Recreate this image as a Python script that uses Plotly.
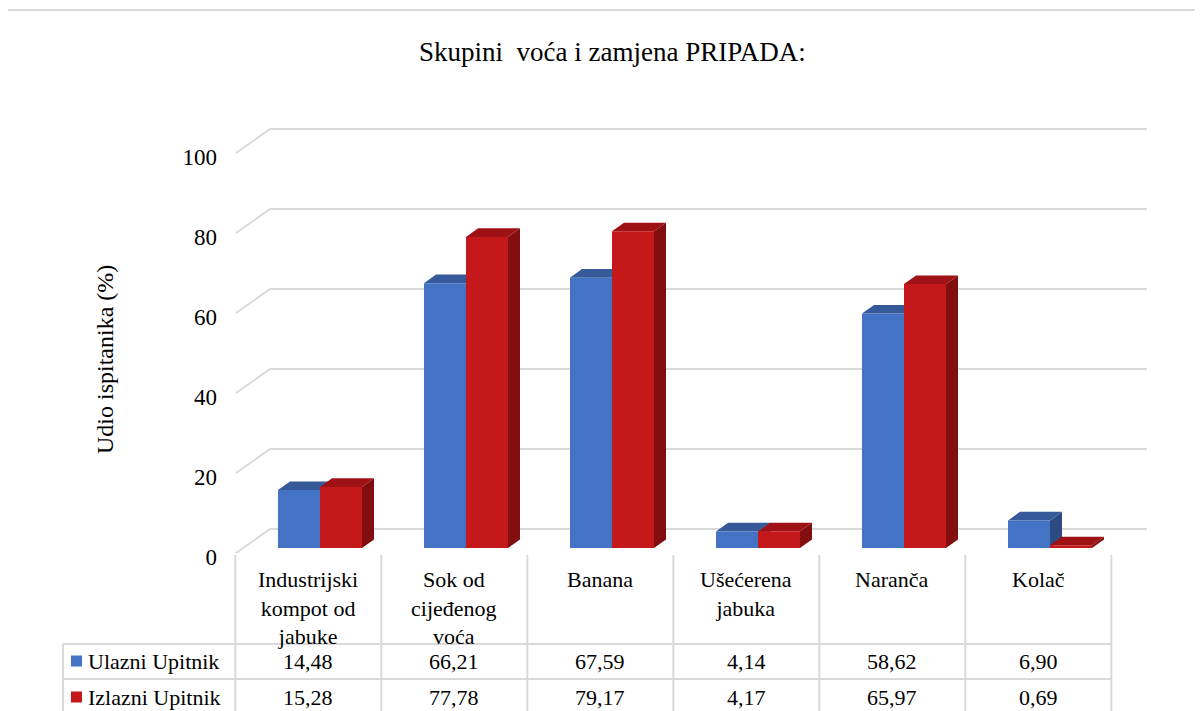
import plotly.graph_objects as go

# ============================================================================ #
# Data

CATEGORIES = [
    "Industrijski<br>kompot od<br>jabuke",
    "Sok od<br>cijeđenog<br>voća",
    "Banana",
    "Ušećerena<br>jabuka",
    "Naranča",
    "Kolač",
]
ULAZNI = [14.48, 66.21, 67.59, 4.14, 58.62, 6.90]
IZLAZNI = [15.28, 77.78, 79.17, 4.17, 65.97, 0.69]
SERIES_NAMES = ["Ulazni Upitnik", "Izlazni Upitnik"]
Y_TICKS = [0, 20, 40, 60, 80, 100]

TITLE = "Skupini  voća i zamjena PRIPADA:"
Y_TITLE = "Udio ispitanika (%)"

# ============================================================================ #
# Layout constants, in pixels of the 1203x711 page

PAGE_OFF = 8                       # default body margin of the html page
W, H = 1203 - PAGE_OFF, 711 - PAGE_OFF
PLOT_L, PLOT_R, PLOT_T, PLOT_B = 230, 1155, 120, 560
CAT0_PX, CAT_STEP = 320, 146       # centre of first category / px per category
ZERO_PX, PX_PER_UNIT = 548, 4.0    # y pixel of value 0 on the bar plane

BAR_W = 42 / CAT_STEP              # width of one bar in category units
DEPTH_X = 12 / CAT_STEP            # 3d depth of a bar
DEPTH_Y = 8.6 / PX_PER_UNIT
WALL_DY = 19 / PX_PER_UNIT         # back wall is above the bar plane
FRONT_DY = -5 / PX_PER_UNIT        # front plane (axis labels) below it
WALL_X0, WALL_X1 = (270 - CAT0_PX) / CAT_STEP, (1147 - CAT0_PX) / CAT_STEP
FRONT_X0 = (236 - CAT0_PX) / CAT_STEP
TABLE_SHIFT = -0.08                # table columns sit a bit left of bars

FONT = "Liberation Serif"
GRID = "#D9D9D9"
BLUE = ("#4472C4", "#36599A", "#2D4B82")   # front, top, side
RED = ("#C5181A", "#9E1114", "#830E0F")


def px_x(p):
    return (p - PLOT_L) / (PLOT_R - PLOT_L)


def px_y(p):
    return (PLOT_B - p) / (PLOT_B - PLOT_T)


def cat_px(c):
    return CAT0_PX + CAT_STEP * c


x = list(range(len(CATEGORIES)))

fig = go.Figure()

# MARK: bars (front faces)
for name, values, colors in ((SERIES_NAMES[0], ULAZNI, BLUE), (SERIES_NAMES[1], IZLAZNI, RED)):
    fig.add_trace(
        go.Bar(
            x=x,
            y=values,
            name=name,
            marker=dict(color=colors[0], line=dict(width=0)),
            showlegend=False,
        )
    )

shapes = []

# MARK: back wall gridlines + left diagonals
for g in Y_TICKS:
    shapes.append(dict(type="line", xref="x", yref="y", layer="below",
                       x0=WALL_X0, x1=WALL_X1, y0=g + WALL_DY, y1=g + WALL_DY,
                       line=dict(color=GRID, width=2)))
    shapes.append(dict(type="line", xref="x", yref="y", layer="below",
                       x0=FRONT_X0, x1=WALL_X0, y0=g + FRONT_DY, y1=g + WALL_DY,
                       line=dict(color=GRID, width=2)))

# MARK: 3d top and side faces, from the data
for offset, values, colors in ((-BAR_W, ULAZNI, BLUE), (0, IZLAZNI, RED)):
    for i, v in enumerate(values):
        x0 = i + offset
        x1 = x0 + BAR_W
        top = (f"M {x0} {v} L {x1} {v} L {x1 + DEPTH_X} {v + DEPTH_Y} "
               f"L {x0 + DEPTH_X} {v + DEPTH_Y} Z")
        side = (f"M {x1} 0 L {x1 + DEPTH_X} {DEPTH_Y} L {x1 + DEPTH_X} {v + DEPTH_Y} "
                f"L {x1} {v} Z")
        shapes.append(dict(type="path", xref="x", yref="y", layer="between", path=side,
                           fillcolor=colors[2], line=dict(width=0)))
        shapes.append(dict(type="path", xref="x", yref="y", layer="between", path=top,
                           fillcolor=colors[1], line=dict(width=0)))

# MARK: data table grid
for k in range(len(CATEGORIES) + 1):
    shapes.append(dict(type="line", xref="x", yref="paper",
                       x0=k - 0.5 + TABLE_SHIFT, x1=k - 0.5 + TABLE_SHIFT,
                       y0=px_y(555), y1=px_y(720), line=dict(color=GRID, width=2)))
table_right = px_x(cat_px(len(CATEGORIES) - 0.5 + TABLE_SHIFT))
for yy in (644, 679):
    shapes.append(dict(type="line", xref="paper", yref="paper",
                       x0=px_x(63), x1=table_right, y0=px_y(yy), y1=px_y(yy),
                       line=dict(color=GRID, width=2)))
shapes.append(dict(type="line", xref="paper", yref="paper",
                   x0=px_x(63), x1=px_x(63), y0=px_y(644), y1=px_y(720),
                   line=dict(color=GRID, width=2)))

# outer chart border (cropped on the right and bottom)
shapes.append(dict(type="rect", xref="paper", yref="paper", layer="below",
                   x0=px_x(4), x1=px_x(1230), y0=px_y(10), y1=px_y(740),
                   line=dict(color=GRID, width=2)))

annotations = []

# MARK: table texts
for i, label in enumerate(CATEGORIES):
    annotations.append(dict(xref="x", yref="paper", x=i + TABLE_SHIFT, y=px_y(565),
                            xanchor="center", yanchor="top", text=label,
                            showarrow=False, align="center",
                            font=dict(family=FONT, size=22, color="black")))

for row_y, name, values, colors in ((661, SERIES_NAMES[0], ULAZNI, BLUE),
                                    (697, SERIES_NAMES[1], IZLAZNI, RED)):
    shapes.append(dict(type="rect", xref="paper", yref="paper",
                       x0=px_x(71), x1=px_x(82), y0=px_y(row_y - 5.5), y1=px_y(row_y + 5.5),
                       fillcolor=colors[0], line=dict(width=0)))
    annotations.append(dict(xref="paper", yref="paper", x=px_x(86), y=px_y(row_y),
                            xanchor="left", yanchor="middle", text=name, showarrow=False,
                            font=dict(family=FONT, size=22, color="black")))
    for i, v in enumerate(values):
        annotations.append(dict(xref="x", yref="paper", x=i + TABLE_SHIFT, y=px_y(row_y),
                                xanchor="center", yanchor="middle",
                                text=f"{v:.2f}".replace(".", ","), showarrow=False,
                                font=dict(family=FONT, size=22, color="black")))

# MARK: titles
annotations.append(dict(xref="paper", yref="paper", x=px_x(612), y=px_y(52),
                        xanchor="center", yanchor="middle", text=TITLE, showarrow=False,
                        font=dict(family=FONT, size=27, color="black")))
annotations.append(dict(xref="paper", yref="paper", x=px_x(105), y=px_y(360),
                        xanchor="center", yanchor="middle", text=Y_TITLE, showarrow=False,
                        textangle=-90, font=dict(family=FONT, size=24, color="black")))

# MARK: overall config
fig.update_layout(
    width=W,
    height=H,
    margin=dict(l=PLOT_L - PAGE_OFF, r=W - (PLOT_R - PAGE_OFF),
                t=PLOT_T - PAGE_OFF, b=H - (PLOT_B - PAGE_OFF), autoexpand=False),
    paper_bgcolor="white",
    plot_bgcolor="white",
    barmode="group",
    bargap=1 - 2 * BAR_W,
    bargroupgap=0,
    shapes=shapes,
    annotations=annotations,
    showlegend=False,
)

fig.update_xaxes(
    range=[(PLOT_L - CAT0_PX) / CAT_STEP, (PLOT_R - CAT0_PX) / CAT_STEP],
    showticklabels=False, showgrid=False, zeroline=False, showline=False, ticks="",
)
fig.update_yaxes(
    range=[(ZERO_PX - PLOT_B) / PX_PER_UNIT, (ZERO_PX - PLOT_T) / PX_PER_UNIT],
    tickvals=[g + FRONT_DY - 1.0 for g in Y_TICKS],
    ticktext=[str(g) for g in Y_TICKS],
    tickfont=dict(family=FONT, size=23, color="black"),
    ticklabelstandoff=12,
    showgrid=False, zeroline=False, showline=False, ticks="",
)

fig.write_html("out.html")
